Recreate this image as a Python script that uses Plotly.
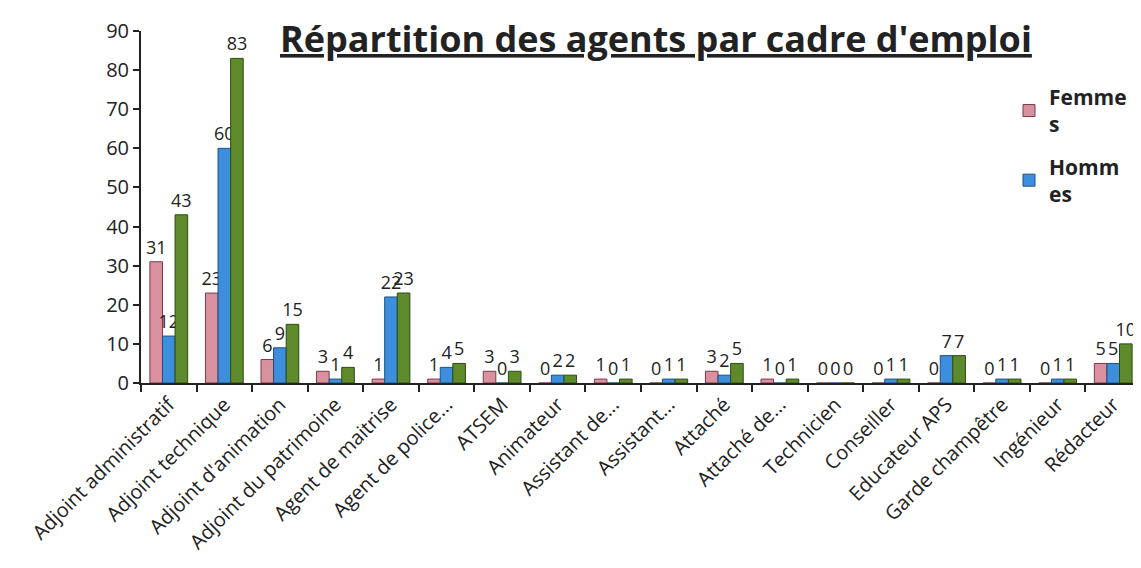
import plotly.graph_objects as go

categories = ["Adjoint administratif", "Adjoint technique", "Adjoint d'animation",
              "Adjoint du patrimoine", "Agent de maitrise", "Agent de police...",
              "ATSEM", "Animateur", "Assistant de...", "Assistant...", "Attaché",
              "Attaché de...", "Technicien", "Conseiller", "Educateur APS",
              "Garde champêtre", "Ingénieur", "Rédacteur"]
femmes = [31, 23, 6, 3, 1, 1, 3, 0, 1, 0, 3, 1, 0, 0, 0, 0, 0, 5]
hommes = [12, 60, 9, 1, 22, 4, 0, 2, 0, 1, 2, 0, 0, 1, 7, 1, 1, 5]
total = [43, 83, 15, 4, 23, 5, 3, 2, 1, 1, 5, 1, 0, 1, 7, 1, 1, 10]

font_family = "Open Sans, Lato, sans-serif"
txt_font = dict(family=font_family, size=18, color="#222")

fig = go.Figure()
fig.add_trace(go.Bar(x=categories, y=femmes, name="Femme<br>s", legendgroup="f",
                     marker=dict(color="#d9909f", line=dict(color="#7a3a4a", width=1)),
                     text=femmes, textposition="outside", textfont=txt_font,
                     constraintext="none", cliponaxis=False))
fig.add_trace(go.Bar(x=categories, y=hommes, name="Homm<br>es", legendgroup="h",
                     marker=dict(color="#3d8fdd", line=dict(color="#1f4f80", width=1)),
                     text=hommes, textposition="outside", textfont=txt_font,
                     constraintext="none", cliponaxis=False))
fig.add_trace(go.Bar(x=categories, y=total, name="Total", showlegend=False, legendgroup="t",
                     marker=dict(color="#5f8a2c", line=dict(color="#2f4a12", width=1)),
                     text=total, textposition="outside", textfont=txt_font,
                     constraintext="none", cliponaxis=False))

fig.update_layout(
    width=1141, height=568,
    paper_bgcolor="white", plot_bgcolor="white",
    margin=dict(l=133, r=8, t=23, b=193),
    barmode="group", bargap=0.32, bargroupgap=0.0,
    font=dict(family=font_family, color="#222"),
    legend=dict(x=0.868, y=0.87, xanchor="left", yanchor="top",
                font=dict(family=font_family, size=21, color="#222", weight="bold"),
                bgcolor="rgba(0,0,0,0)", traceorder="grouped", tracegroupgap=12,
                itemwidth=30),
    annotations=[dict(text="<b><u>Répartition des agents par cadre d'emploi</u></b>",
                      x=0.515, y=(375 - 30) / 352, xref="paper", yref="paper",
                      xanchor="center", yanchor="middle", showarrow=False,
                      font=dict(family=font_family, size=36, color="#222"))],
)

fig.update_xaxes(type="category", showline=True, linecolor="#222", linewidth=2,
                 ticks="outside", ticklen=7, tickwidth=2, tickcolor="#222",
                 tickson="boundaries", tickangle=-45,
                 tickfont=dict(family=font_family, size=20, color="#222"),
                 showgrid=False)
fig.update_yaxes(range=[0, 90], dtick=10, showline=True, linecolor="#222", linewidth=2,
                 ticks="outside", ticklen=6, tickwidth=2, tickcolor="#222",
                 tickfont=dict(family=font_family, size=20, color="#222"),
                 showgrid=False, zeroline=False)

fig.write_html("out.html")
